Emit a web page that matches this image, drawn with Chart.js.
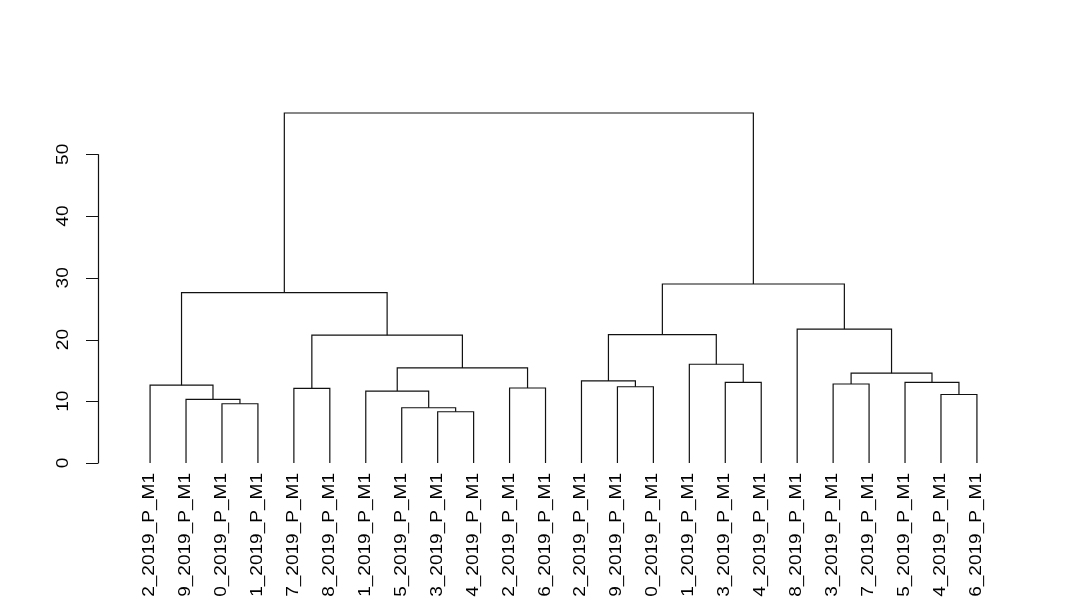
<!DOCTYPE html>
<html>
<head>
<meta charset="utf-8">
<script src="https://cdn.jsdelivr.net/npm/chart.js@4"></script>
<style>
  html, body { margin: 0; padding: 0; background: #fff; }
  #wrap { width: 1080px; height: 600px; }
</style>
</head>
<body>
<div id="wrap"><canvas id="dendro" width="1080" height="600"></canvas></div>
<script>
// leaf labels, in plotted order (left -> right)
const leafLabels = [
  '2_2019_P_M1', '9_2019_P_M1', '0_2019_P_M1', '1_2019_P_M1',
  '7_2019_P_M1', '8_2019_P_M1', '1_2019_P_M1', '5_2019_P_M1',
  '3_2019_P_M1', '4_2019_P_M1', '2_2019_P_M1', '6_2019_P_M1',
  '2_2019_P_M1', '9_2019_P_M1', '0_2019_P_M1', '1_2019_P_M1',
  '3_2019_P_M1', '4_2019_P_M1', '8_2019_P_M1', '3_2019_P_M1',
  '7_2019_P_M1', '5_2019_P_M1', '4_2019_P_M1', '6_2019_P_M1'
];

// hclust style merges: negative = leaf position (1-based), positive = earlier merge
const mergeLeft  = [ -9, -8, -3, -2, -23, -7,  -5, -11, -14, -1, -20, -17, -22, -13, 11,  6, -16,  7, 14, -19, 10, 19, 21];
const mergeRight = [-10,  1, -4,  3, -24,  2,  -6, -12, -15,  4, -21, -18,   5,   9, 13,  8,  12, 16, 17,  15, 18, 20, 22];
const mergeHeight = [
  8.3, 8.95, 9.6, 10.3, 11.1, 11.65, 12.1, 12.15, 12.35, 12.6, 12.8, 13.05,
  13.05, 13.3, 14.55, 15.4, 16.0, 20.7, 20.8, 21.7, 27.6, 29.0, 56.7
];

const yTicks = [0, 10, 20, 30, 40, 50];

// x position and height of each node
const nodeX = [], nodeH = [];
function pos(ref) {
  if (ref < 0) return { x: -ref, h: 0 };
  return { x: nodeX[ref - 1], h: nodeH[ref - 1] };
}

const datasets = [];
for (let i = 0; i < mergeHeight.length; i++) {
  const a = pos(mergeLeft[i]);
  const b = pos(mergeRight[i]);
  const h = mergeHeight[i];
  nodeX.push((a.x + b.x) / 2);
  nodeH.push(h);
  datasets.push({
    data: [{ x: a.x, y: a.h }, { x: a.x, y: h }, { x: b.x, y: h }, { x: b.x, y: b.h }],
    showLine: true,
    borderColor: '#111',
    borderWidth: 1.2,
    pointRadius: 0,
    fill: false,
    tension: 0
  });
}

const n = leafLabels.length;
const maxH = Math.max(...mergeHeight);

// R-like axes and labels
const rAxes = {
  id: 'rAxes',
  afterDraw(chart) {
    const c = chart.ctx;
    const xs = chart.scales.x, ys = chart.scales.y;
    const axisX = 98;
    const stretch = 1.19;
    c.save();
    c.strokeStyle = '#111';
    c.lineWidth = 1.2;
    c.beginPath();
    c.moveTo(axisX + 0.5, ys.getPixelForValue(yTicks[0]));
    c.lineTo(axisX + 0.5, ys.getPixelForValue(yTicks[yTicks.length - 1]));
    for (const t of yTicks) {
      const py = Math.round(ys.getPixelForValue(t)) + 0.5;
      c.moveTo(axisX + 0.5, py);
      c.lineTo(axisX - 12, py);
    }
    c.stroke();

    c.fillStyle = '#000';
    c.font = '16px "Liberation Sans", Arial, sans-serif';
    c.textBaseline = 'alphabetic';
    for (const t of yTicks) {
      c.save();
      c.translate(68, ys.getPixelForValue(t));
      c.rotate(-Math.PI / 2);
      c.scale(stretch, 1);
      c.textAlign = 'center';
      c.fillText(String(t), 0, 0);
      c.restore();
    }
    leafLabels.forEach((lab, i) => {
      c.save();
      c.translate(xs.getPixelForValue(i + 1) + 4, 473);
      c.rotate(-Math.PI / 2);
      c.scale(stretch, 1);
      c.textAlign = 'right';
      c.fillText(lab, 0, 0);
      c.restore();
    });
    c.restore();
  }
};

new Chart(document.getElementById('dendro').getContext('2d'), {
  type: 'scatter',
  data: { datasets },
  options: {
    responsive: false,
    animation: false,
    layout: { padding: { left: 117, right: 70, top: 99, bottom: 123 } },
    plugins: { legend: { display: false }, tooltip: { enabled: false } },
    scales: {
      x: { type: 'linear', display: false, min: 1 - 0.04 * (n - 1), max: n + 0.04 * (n - 1) },
      y: { type: 'linear', display: false, min: -0.04 * maxH, max: maxH * 1.04 }
    }
  },
  plugins: [rAxes]
});
</script>
</body>
</html>
